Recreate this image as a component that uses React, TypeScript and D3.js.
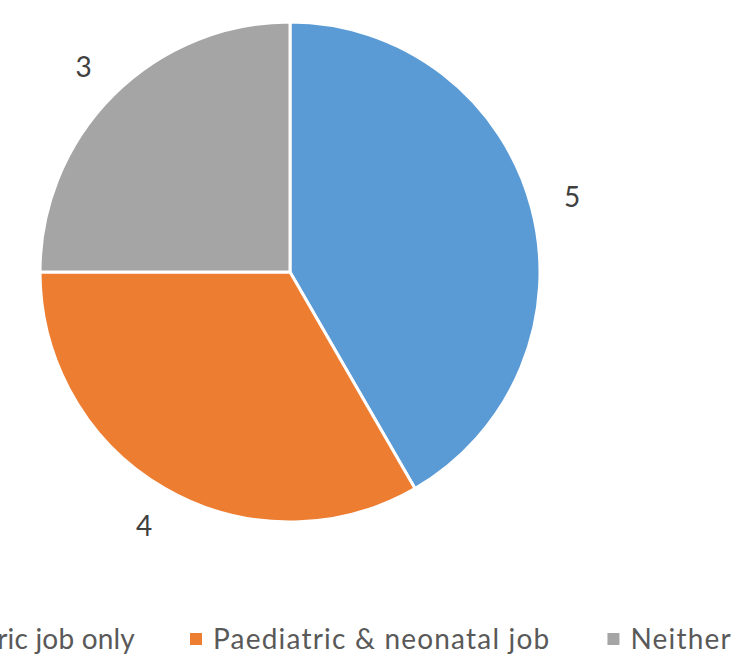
import React, { useEffect, useRef } from 'react';
import * as d3 from 'd3';

// chart data
const categories = ['Paediatric job only', 'Paediatric & neonatal job', 'Neither'];
const values = [5, 4, 3];
const colors = ['#5b9bd5', '#ed7d31', '#a5a5a5'];

const width = 743;
const height = 661;

const App: React.FC = () => {
  const svgRef = useRef<SVGSVGElement>(null);

  useEffect(() => {
    if (!svgRef.current) return;
    const svg = d3.select(svgRef.current);
    svg.selectAll('*').remove();

    const cx = 290;
    const cy = 272;
    const radius = 250;
    const font = 'Lato, "Open Sans", sans-serif';

    const pie = d3.pie<number>().sort(null).value(d => d);
    const arcs = pie(values);
    const arc = d3.arc<d3.PieArcDatum<number>>().innerRadius(0).outerRadius(radius);
    const labelArc = d3.arc<d3.PieArcDatum<number>>().innerRadius(292).outerRadius(292);

    const g = svg.append('g').attr('transform', `translate(${cx},${cy})`);

    g.selectAll('path')
      .data(arcs)
      .enter()
      .append('path')
      .attr('d', arc)
      .attr('fill', (d, i) => colors[i])
      .attr('stroke', '#fff')
      .attr('stroke-width', 3)
      .attr('stroke-linejoin', 'round');

    // data labels
    g.selectAll('.lbl')
      .data(arcs)
      .enter()
      .append('text')
      .attr('class', 'lbl')
      .attr('transform', d => `translate(${labelArc.centroid(d)})`)
      .attr('text-anchor', 'middle')
      .attr('dominant-baseline', 'central')
      .attr('font-family', font)
      .attr('font-size', 28)
      .attr('fill', '#404040')
      .text(d => d.data);

    // legend, laid out from the second item's marker
    const legend = svg.append('g').attr('transform', `translate(0,639)`);
    const items = legend.selectAll('.item')
      .data(categories)
      .enter()
      .append('g')
      .attr('class', 'item');

    items.append('rect')
      .attr('width', 12)
      .attr('height', 12)
      .attr('y', -6)
      .attr('fill', (d, i) => colors[i]);

    const texts = items.append('text')
      .attr('x', 23)
      .attr('y', 10)
      .attr('font-family', font)
      .attr('font-size', 28)
      .attr('letter-spacing', (d, i) => (i === 0 ? 0.2 : 1.2))
      .attr('fill', '#595959')
      .text(d => d);

    const widths = texts.nodes().map(n => (n as SVGTextElement).getComputedTextLength());
    const gap = 55;
    const xs: number[] = [];
    xs[1] = 190;
    xs[0] = xs[1] - gap - 23 - widths[0];
    xs[2] = xs[1] + 23 + widths[1] + 57;
    items.attr('transform', (d, i) => `translate(${xs[i]},0)`);
  }, []);

  return (
    <svg
      ref={svgRef}
      width={width}
      height={height}
      style={{ position: 'absolute', left: 0, top: 0, background: '#fff' }}
    />
  );
};

export default App;
